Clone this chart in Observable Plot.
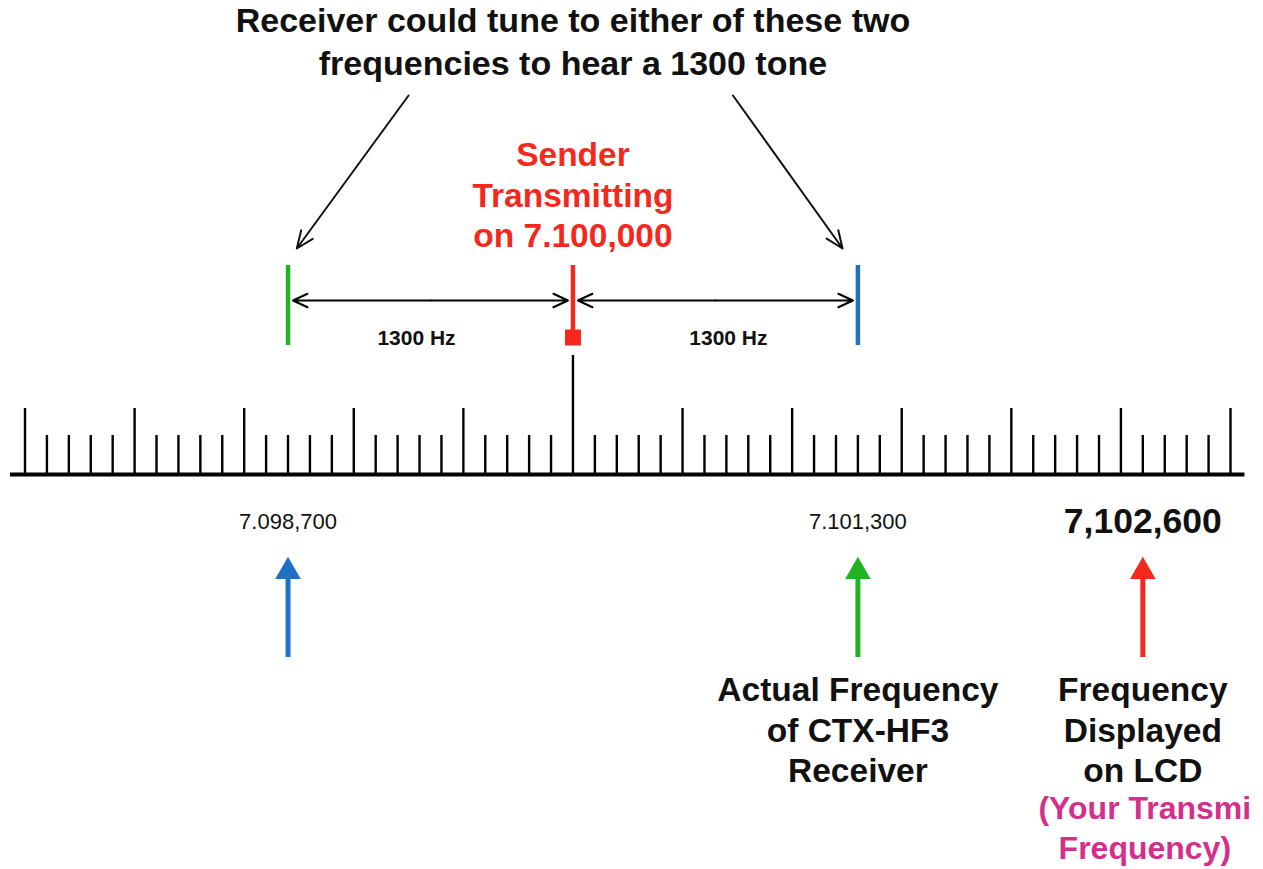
<!DOCTYPE html>
<html>
<head>
<meta charset="utf-8">
<script src="https://cdn.jsdelivr.net/npm/d3@7"></script>
<script src="https://cdn.jsdelivr.net/npm/@observablehq/plot@0.6"></script>
<style>
  html, body { margin: 0; padding: 0; background: #fff; }
  #chart svg { display: block; }
</style>
</head>
<body>
<div id="chart"></div>
<script>
// ---------- data ----------
const rulerStart = 7097500;           // Hz, first tick
const rulerEnd = 7103000;             // Hz, last tick
const rulerStep = 100;                // Hz between ticks
const majorEvery = 500;               // Hz between tall ticks
const senderFreq = 7100000;
const toneHz = 1300;

const lineFreqs = [7098700, 7100000, 7101300];
const lineColors = ["#22b323", "#f4281c", "#1f72c2"];

const gapLabels = ["1300 Hz", "1300 Hz"];
const gapMids = [7099350, 7100650];

const freqLabels = ["7.098,700", "7.101,300"];
const freqLabelValues = [7098700, 7101300];
const lcdLabel = "7,102,600";
const lcdFreq = 7102600;

const upArrowFreqs = [7098700, 7101300, 7102600];
const upArrowColors = ["#1f72c2", "#22b323", "#f4281c"];

const titleText = "Receiver could tune to either of these two\nfrequencies to hear a 1300 tone";
const senderText = "Sender\nTransmitting\non 7.100,000";
const actualText = "Actual Frequency\nof CTX-HF3\nReceiver";
const lcdText = "Frequency\nDisplayed\non LCD";
const txText = "(Your Transmi\nFrequency)";

// pointer arrows from the title to the two tuning frequencies
const pointerStart = [7099250, 7100730];
const pointerEnd = [7098740, 7101230];

// ---------- derived tables ----------
const ticks = d3.range(rulerStart, rulerEnd + 1, rulerStep);
const font = "'Liberation Sans', Arial, Helvetica, sans-serif";

// layout rows (pixel rows of the diagram)
const Y = {
  base: 474, tickMajor: 408, tickMinor: 435, senderTick: 355,
  lineTop: 265, lineBot: 345, redBot: 335, square: 337,
  gapArrow: 300, gapLabel: 338,
  pointerTop: 95, pointerBot: 248,
  freqLabel: 521, upTip: 571, upTop: 578, upBot: 657,
  title: 39.5, sender: 193, bottomBlock: 728, txBlock: 826
};

const gapArrows = [
  {x1: gapMids[0], x2: lineFreqs[0]}, {x1: gapMids[0], x2: senderFreq},
  {x1: gapMids[1], x2: senderFreq}, {x1: gapMids[1], x2: lineFreqs[2]}
];

const bold = {fontWeight: "bold"};

const chart = Plot.plot({
  width: 1263,
  height: 869,
  margin: 0,
  x: {domain: [rulerStart, rulerEnd], range: [24.5, 1230], axis: null},
  y: {domain: [0, 869], range: [0, 869], axis: null},
  style: {fontFamily: font, background: "#fff"},
  marks: [
    // baseline
    Plot.ruleY([Y.base], {x1: rulerStart - 66, x2: rulerEnd + 66, stroke: "#000", strokeWidth: 4}),
    // ruler ticks
    Plot.ruleX(ticks, {
      x: d => d,
      y1: Y.base,
      y2: d => d === senderFreq ? Y.senderTick : (d % majorEvery === 0 ? Y.tickMajor : Y.tickMinor),
      stroke: "#000", strokeWidth: 2.4
    }),
    // coloured frequency lines
    Plot.ruleX(lineFreqs, {
      x: d => d, y1: Y.lineTop,
      y2: d => d === senderFreq ? Y.redBot : Y.lineBot,
      stroke: (d, i) => lineColors[i], strokeWidth: 4.5
    }),
    Plot.dot([senderFreq], {x: d => d, y: Y.square, symbol: "square", r: 9, fill: lineColors[1], stroke: "none"}),
    // 1300 Hz span arrows
    Plot.arrow(gapArrows, {
      x1: "x1", x2: "x2", y1: Y.gapArrow, y2: Y.gapArrow,
      stroke: "#000", strokeWidth: 2, headLength: 12, headAngle: 50, insetEnd: 5
    }),
    Plot.text([gapLabels[0]], {
      x: gapMids[0], y: Y.gapLabel, text: d => d, dx: -14,
      fontSize: 21, ...bold, fill: "#111"
    }),
    Plot.text([gapLabels[1]], {
      x: gapMids[1], y: Y.gapLabel, text: d => d, dx: 13,
      fontSize: 21, ...bold, fill: "#111"
    }),
    // pointer arrows from title
    Plot.arrow(pointerStart, {
      x1: d => d, y1: Y.pointerTop, x2: (d, i) => pointerEnd[i], y2: Y.pointerBot,
      stroke: "#111", strokeWidth: 2, headLength: 14, headAngle: 45
    }),
    // title
    Plot.text([titleText], {
      x: senderFreq, y: Y.title, text: d => d, fontSize: 34, ...bold,
      lineHeight: 1.26, fill: "#111"
    }),
    // sender
    Plot.text([senderText], {
      x: senderFreq, y: Y.sender, text: d => d, fontSize: 33.5, ...bold,
      lineHeight: 1.22, fill: lineColors[1]
    }),
    // frequency labels under the ruler
    Plot.text(freqLabels, {
      x: (d, i) => freqLabelValues[i], y: Y.freqLabel, text: d => d, fontSize: 22, fill: "#111"
    }),
    Plot.text([lcdLabel], {
      x: lcdFreq, y: Y.freqLabel, text: d => d, fontSize: 35.5, ...bold, fill: "#111"
    }),
    // up arrows
    Plot.ruleX(upArrowFreqs, {
      x: d => d, y1: Y.upTop, y2: Y.upBot, stroke: (d, i) => upArrowColors[i], strokeWidth: 5
    }),
    Plot.dot(upArrowFreqs, {
      x: d => d, y: Y.upTip, symbol: "triangle", r: 9.5, fill: (d, i) => upArrowColors[i], stroke: "none"
    }),
    // bottom captions
    Plot.text([actualText], {
      x: lineFreqs[2], y: Y.bottomBlock, text: d => d, fontSize: 33.5, ...bold,
      lineHeight: 1.22, fill: "#111"
    }),
    Plot.text([lcdText], {
      x: lcdFreq, y: Y.bottomBlock, text: d => d, fontSize: 33.5, ...bold,
      lineHeight: 1.22, fill: "#111"
    }),
    Plot.text([txText], {
      x: lcdFreq, y: Y.txBlock, text: d => d, fontSize: 32, ...bold,
      lineHeight: 1.22, fill: "#d4308b", dx: 2
    })
  ]
});

document.getElementById("chart").appendChild(chart);
</script>
</body>
</html>
